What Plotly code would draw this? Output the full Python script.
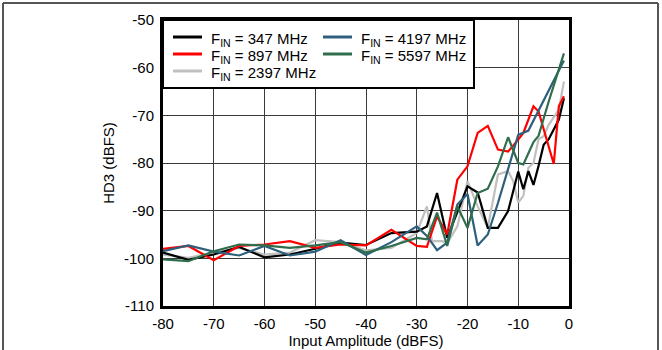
import plotly.graph_objects as go

# ---- data ----
x_347 = [-80, -75, -70, -65, -60, -55, -50, -45, -40, -35, -30, -28, -26, -24, -22, -20, -18, -16,
         -14, -12, -10, -9, -8, -7, -6, -5, -4, -2, -1]
y_347 = [-98.8, -100.3, -99.2, -97.6, -99.8, -99.2, -98.0, -96.7, -97.2, -94.7, -94.4, -93.3, -86.3,
         -95.7, -90.3, -84.9, -86.2, -93.6, -93.6, -90.1, -81.8, -85.5, -81.7, -84.6, -80.6, -76.2,
         -75.0, -70.9, -66.4]

x_897 = [-80, -75, -70, -65, -60, -55, -50, -45, -40, -35, -30, -28, -26, -24, -22, -20, -18, -16,
         -14, -12, -10, -9, -7, -6, -3, -2, -1]
y_897 = [-98.0, -97.4, -100.4, -97.4, -97.1, -96.4, -97.8, -97.1, -97.3, -94.0, -97.4, -97.6, -91.2,
         -95.0, -83.5, -80.7, -73.7, -72.2, -77.2, -77.6, -75.1, -73.7, -68.1, -69.2, -80.2, -68.1,
         -66.0]

x_2397 = [-80, -75, -70, -65, -60, -55, -50, -45, -40, -35, -30, -28, -27, -25, -24, -22, -20, -18,
          -16, -14, -12, -11, -10, -9, -8, -7, -6, -5, -4, -2, -1]
y_2397 = [-99.2, -99.9, -98.8, -97.8, -99.2, -98.8, -96.2, -96.6, -98.3, -97.8, -94.7, -89.1, -96.4,
          -96.4, -96.8, -93.3, -83.8, -89.1, -93.6, -82.4, -81.7, -83.8, -88.3, -86.9, -81.0, -80.0,
          -75.0, -74.4, -72.0, -68.8, -62.9]

x_4197 = [-80, -75, -70, -65, -60, -55, -50, -45, -40, -35, -30, -28, -26, -24, -22, -20, -18, -16,
          -14, -12, -10, -8, -1]
y_4197 = [-98.5, -97.3, -98.6, -99.4, -97.4, -99.4, -98.6, -96.2, -99.3, -96.6, -93.3, -95.3, -98.3,
          -96.7, -88.7, -86.5, -97.3, -95.0, -88.4, -81.4, -74.1, -73.2, -58.5]

x_5597 = [-80, -75, -70, -65, -60, -55, -50, -45, -40, -35, -30, -28, -26, -24, -22, -20, -18, -16,
          -14, -12, -10, -9, -7, -6, -4, -1]
y_5597 = [-100.2, -100.6, -98.5, -97.1, -97.3, -97.8, -97.3, -96.6, -98.8, -97.4, -95.7, -96.0,
          -90.4, -97.4, -89.1, -93.6, -86.3, -85.4, -80.7, -74.6, -80.0, -80.3, -75.6, -74.3, -67.1,
          -57.0]

series_names = ["F<sub>IN</sub> = 347 MHz", "F<sub>IN</sub> = 897 MHz", "F<sub>IN</sub> = 2397 MHz",
                "F<sub>IN</sub> = 4197 MHz", "F<sub>IN</sub> = 5597 MHz"]
series_colors = ["#000000", "#ff0000", "#c0c0c0", "#2e5f7c", "#2e6e4c"]

x_ticks = [-80, -70, -60, -50, -40, -30, -20, -10, 0]
y_ticks = [-110, -100, -90, -80, -70, -60, -50]

# ---- figure ----
FONT = "Liberation Sans, Arial, sans-serif"
W, H = 662, 350
L, R, T, B = 163, 93, 20, 44
PW, PH = W - L - R, H - T - B


def px_x(px):
    return (px - L) / PW


def px_y(py):
    return (H - B - py) / PH


fig = go.Figure()

# draw order: gray, black, red, blue, green
draw_order = [2, 0, 1, 3, 4]
xs_all = [x_347, x_897, x_2397, x_4197, x_5597]
ys_all = [y_347, y_897, y_2397, y_4197, y_5597]
for i in draw_order:
    fig.add_trace(go.Scatter(x=xs_all[i], y=ys_all[i], mode="lines", name=series_names[i],
                             line=dict(color=series_colors[i], width=2.2), showlegend=False))

# legend box (drawn manually so the row spacing matches the original)
fig.add_shape(type="rect", xref="paper", yref="paper", layer="above",
              x0=px_x(163), x1=px_x(474), y0=px_y(88), y1=px_y(20),
              fillcolor="white", line=dict(color="black", width=2))
# legend layout: (column line start px, row y px) per series
leg_pos = {0: (173, 37), 1: (173, 54), 2: (173, 71), 3: (323, 37), 4: (323, 54)}
for i, (lx, ly) in leg_pos.items():
    fig.add_shape(type="line", xref="paper", yref="paper", layer="above",
                  x0=px_x(lx), x1=px_x(lx + 29), y0=px_y(ly), y1=px_y(ly),
                  line=dict(color=series_colors[i], width=3))
    fig.add_annotation(xref="paper", yref="paper", x=px_x(lx + 36), y=px_y(ly + 2.5),
                       xanchor="left", yanchor="middle", showarrow=False,
                       text=series_names[i], font=dict(family=FONT, size=15, color="black"))

# outer frame of the figure image
frame = dict(type="line", xref="paper", yref="paper", line=dict(color="#555555", width=2))
fig.add_shape(**frame, x0=px_x(3), x1=px_x(658), y0=px_y(3), y1=px_y(3))
fig.add_shape(**frame, x0=px_x(3), x1=px_x(3), y0=px_y(3), y1=px_y(380))
fig.add_shape(**frame, x0=px_x(658), x1=px_x(658), y0=px_y(3), y1=px_y(380))

fig.update_layout(
    width=W, height=H,
    margin=dict(l=L, r=R, t=T, b=B, autoexpand=False),
    paper_bgcolor="white", plot_bgcolor="white",
    font=dict(family=FONT, size=15, color="black"),
    showlegend=False,
    xaxis=dict(
        range=[-80, 0], tickvals=x_ticks, ticktext=[str(v) for v in x_ticks],
        showgrid=True, gridcolor="#3a3a3a", gridwidth=1,
        showline=True, linecolor="black", linewidth=3, mirror=True,
        ticks="", ticklabelstandoff=2, zeroline=False, automargin=False,
        title=dict(text="Input Amplitude (dBFS)", standoff=0, font=dict(size=15)),
    ),
    yaxis=dict(
        range=[-110, -50], tickvals=y_ticks, ticktext=[str(v) for v in y_ticks],
        showgrid=True, gridcolor="#3a3a3a", gridwidth=1,
        showline=True, linecolor="black", linewidth=3, mirror=True,
        ticks="", ticklabelstandoff=3, zeroline=False, automargin=False,
        title=dict(text="HD3 (dBFS)", standoff=6, font=dict(size=15)),
    ),
)

fig.write_html("out.html", config={"displayModeBar": False},
               post_script="document.body.style.margin='0';")
